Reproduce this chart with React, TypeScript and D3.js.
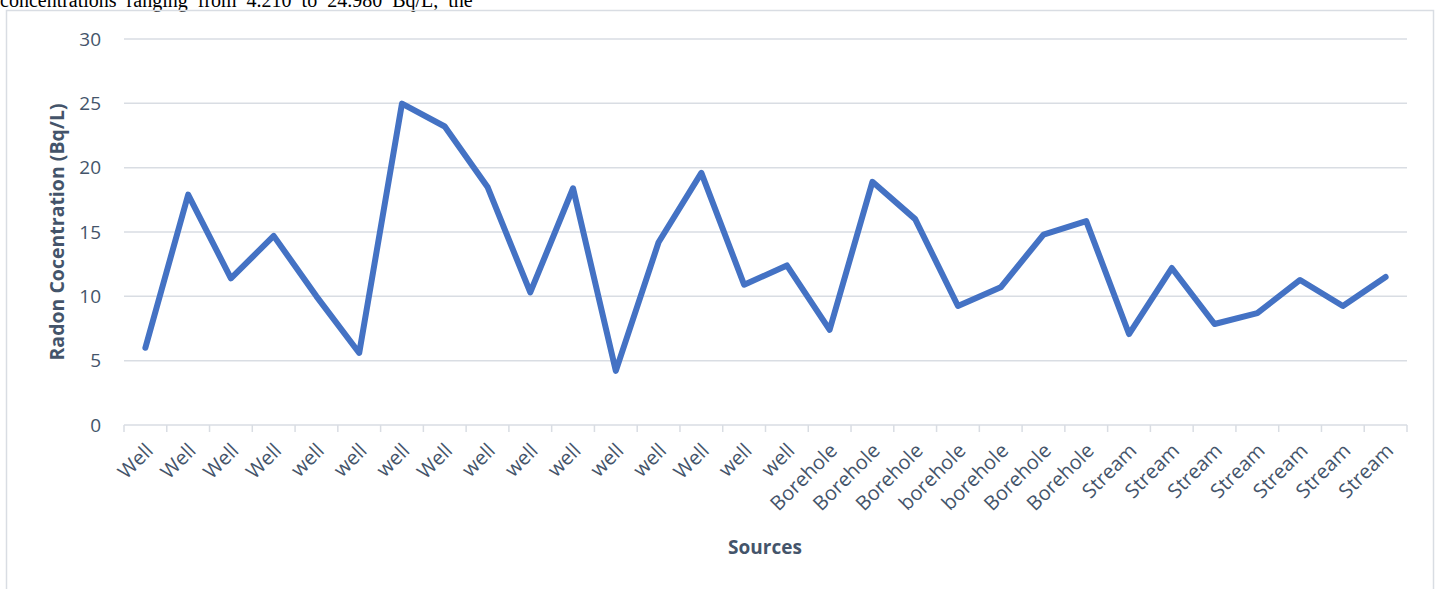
import React, { useEffect, useRef } from 'react';
import * as d3 from 'd3';

const sources = [
  'Well', 'Well', 'Well', 'Well', 'well', 'well', 'well', 'Well', 'well', 'well',
  'well', 'well', 'well', 'Well', 'well', 'well', 'Borehole', 'Borehole', 'Borehole', 'borehole',
  'borehole', 'Borehole', 'Borehole', 'Stream', 'Stream', 'Stream', 'Stream', 'Stream', 'Stream', 'Stream',
];

const radon = [
  6.0, 17.9, 11.4, 14.7, 10.0, 5.6, 24.98, 23.2, 18.5, 10.3,
  18.4, 4.21, 14.2, 19.6, 10.9, 12.4, 7.4, 18.9, 16.0, 9.25,
  10.7, 14.8, 15.85, 7.07, 12.2, 7.85, 8.7, 11.27, 9.25, 11.5,
];

const yTicks = [0, 5, 10, 15, 20, 25, 30];

const W = 1440;
const H = 589;
const textColor = '#44546A';
const gridColor = '#D9DDE3';

const App: React.FC = () => {
  const svgRef = useRef<SVGSVGElement>(null);

  useEffect(() => {
    if (!svgRef.current) return;
    const svg = d3.select(svgRef.current);
    svg.selectAll('*').remove();

    // cut-off line of the surrounding document text
    svg.append('text')
      .attr('x', 0)
      .attr('y', 7)
      .attr('font-family', '"Liberation Serif", "Times New Roman", serif')
      .attr('font-size', 20)
      .attr('word-spacing', 5)
      .attr('fill', '#000')
      .text('concentrations ranging from 4.210 to 24.980 Bq/L, the');

    // chart frame
    svg.append('path')
      .attr('d', `M6.5,${H + 2}V10.5H1433.5V${H + 2}`)
      .attr('fill', 'none')
      .attr('stroke', gridColor)
      .attr('stroke-width', 1.5);

    const x = d3.scaleBand<number>()
      .domain(d3.range(sources.length))
      .range([124, 1407]);

    const y = d3.scaleLinear().domain([0, 30]).range([425, 39]);

    // gridlines
    svg.append('g')
      .selectAll('line')
      .data(yTicks.filter(t => t > 0))
      .enter().append('line')
      .attr('x1', 124)
      .attr('x2', 1407)
      .attr('y1', d => y(d))
      .attr('y2', d => y(d))
      .attr('stroke', gridColor)
      .attr('stroke-width', 1.5);

    // x axis line + ticks
    const xAxis = svg.append('g').attr('stroke', gridColor).attr('stroke-width', 1.5);
    xAxis.append('line')
      .attr('x1', 124).attr('x2', 1407)
      .attr('y1', y(0)).attr('y2', y(0));
    xAxis.selectAll('line.tick')
      .data(d3.range(sources.length + 1))
      .enter().append('line')
      .attr('class', 'tick')
      .attr('x1', d => 124 + d * x.step())
      .attr('x2', d => 124 + d * x.step())
      .attr('y1', y(0))
      .attr('y2', y(0) + 7);

    // y tick labels
    svg.append('g')
      .selectAll('text')
      .data(yTicks)
      .enter().append('text')
      .attr('x', 101)
      .attr('y', d => y(d))
      .attr('dy', '0.35em')
      .attr('text-anchor', 'end')
      .attr('font-family', '"Open Sans", sans-serif')
      .attr('font-size', 19)
      .attr('fill', textColor)
      .text(d => d);

    // x tick labels
    svg.append('g')
      .selectAll('text')
      .data(sources)
      .enter().append('text')
      .attr('transform', (_d, i) => `translate(${(x(i) as number) + x.bandwidth() / 2 - 1},${y(0) + 17}) rotate(-45)`)
      .attr('text-anchor', 'end')
      .attr('dy', '0.7em')
      .attr('font-family', '"Open Sans", sans-serif')
      .attr('font-size', 20)
      .attr('fill', textColor)
      .text(d => d);

    // line
    const line = d3.line<number>()
      .x((_d, i) => (x(i) as number) + x.bandwidth() / 2)
      .y(d => y(d));

    svg.append('path')
      .datum(radon)
      .attr('d', line)
      .attr('fill', 'none')
      .attr('stroke', '#4472C4')
      .attr('stroke-width', 6)
      .attr('stroke-linejoin', 'round')
      .attr('stroke-linecap', 'round');

    // axis titles
    svg.append('text')
      .attr('transform', `translate(64,${(y(0) + y(30)) / 2}) rotate(-90)`)
      .attr('text-anchor', 'middle')
      .attr('font-family', '"Open Sans", sans-serif')
      .attr('font-weight', 'bold')
      .attr('font-size', 19.5)
      .attr('fill', textColor)
      .text('Radon Cocentration (Bq/L)');

    svg.append('text')
      .attr('x', 765)
      .attr('y', 554)
      .attr('text-anchor', 'middle')
      .attr('font-family', '"Open Sans", sans-serif')
      .attr('font-weight', 'bold')
      .attr('font-size', 19)
      .attr('fill', textColor)
      .text('Sources');
  }, []);

  return (
    <svg
      ref={svgRef}
      width={W}
      height={H}
      style={{ position: 'absolute', left: 0, top: 0, background: '#fff' }}
    />
  );
};

export default App;
